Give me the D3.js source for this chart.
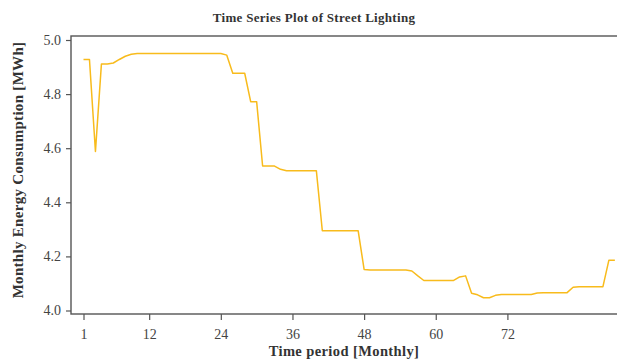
<!DOCTYPE html>
<html>
<head>
<meta charset="utf-8">
<script src="https://cdn.jsdelivr.net/npm/d3@7"></script>
<style>
  html, body { margin: 0; padding: 0; background: #fff; }
  svg { display: block; }
  text { font-family: "Liberation Serif", "Times New Roman", serif; }
</style>
</head>
<body>
<svg id="chart" width="617" height="363"></svg>
<script>
// Monthly street lighting energy consumption (MWh), months 1..90
const months = d3.range(1, 91);
const consumption = [
  4.928, 4.928, 4.588, 4.911, 4.911, 4.915, 4.928, 4.940, 4.947, 4.950,
  4.950, 4.950, 4.950, 4.950, 4.950, 4.950, 4.950, 4.950, 4.950, 4.950,
  4.950, 4.950, 4.950, 4.950, 4.944, 4.877, 4.877, 4.877, 4.772, 4.772,
  4.534, 4.534, 4.534, 4.522, 4.517, 4.517, 4.517, 4.517, 4.517, 4.517,
  4.295, 4.295, 4.295, 4.295, 4.295, 4.295, 4.295, 4.152, 4.150, 4.150,
  4.150, 4.150, 4.150, 4.150, 4.150, 4.146, 4.128, 4.111, 4.111, 4.111,
  4.111, 4.111, 4.111, 4.124, 4.128, 4.064, 4.058, 4.047, 4.047, 4.056,
  4.059, 4.059, 4.059, 4.059, 4.059, 4.059, 4.065, 4.066, 4.066, 4.066,
  4.066, 4.066, 4.086, 4.088, 4.088, 4.088, 4.088, 4.088, 4.186, 4.186
];
const xTicks = [1, 12, 24, 36, 48, 60, 72];
const yTicks = [4.0, 4.2, 4.4, 4.6, 4.8, 5.0];

const titleText = "Time Series Plot of Street Lighting";
const xTitle = "Time period [Monthly]";
const yTitle = "Monthly Energy Consumption [MWh]";

const svg = d3.select("#chart");
const frame = { left: 71, top: 36, right: 640, bottom: 314 };

const x = d3.scaleLinear().domain([1, 72]).range([83.5, 507.4]);
const y = d3.scaleLinear().domain([4, 5]).range([310.5, 40]);

// plot frame
svg.append("rect")
  .attr("x", frame.left).attr("y", frame.top)
  .attr("width", frame.right - frame.left)
  .attr("height", frame.bottom - frame.top)
  .attr("fill", "none")
  .attr("stroke", "#555")
  .attr("stroke-width", 1.4);

// y axis
const yAxis = d3.axisLeft(y).tickValues(yTicks).tickFormat(d3.format(".1f"))
  .tickSize(5).tickPadding(5);
const gy = svg.append("g").attr("transform", `translate(${frame.left},0)`).call(yAxis);
gy.attr("font-family", null);
gy.select(".domain").remove();
gy.selectAll(".tick line").attr("stroke", "#555").attr("stroke-width", 1.2);
gy.selectAll(".tick text").attr("fill", "#444").style("font-size", "14px")
  .style("font-family", "'Liberation Serif', serif");

// x axis
const xAxis = d3.axisBottom(x).tickValues(xTicks).tickFormat(d3.format("d"))
  .tickSize(6).tickPadding(9);
const gx = svg.append("g").attr("transform", `translate(0,${frame.bottom})`).call(xAxis);
gx.attr("font-family", null);
gx.select(".domain").remove();
gx.selectAll(".tick line").attr("stroke", "#555").attr("stroke-width", 1.2);
gx.selectAll(".tick text").attr("fill", "#444").style("font-size", "14px")
  .style("font-family", "'Liberation Serif', serif");

// series line
const line = d3.line()
  .x((d, i) => x(months[i]))
  .y(d => y(d));
svg.append("path")
  .datum(consumption)
  .attr("fill", "none")
  .attr("stroke", "#f8bb1c")
  .attr("stroke-width", 1.5)
  .attr("stroke-linejoin", "round")
  .attr("d", line);

// titles
svg.append("text")
  .attr("x", 314).attr("y", 22)
  .attr("text-anchor", "middle")
  .attr("font-weight", "bold")
  .attr("fill", "#333")
  .style("font-size", "13px")
  .style("letter-spacing", "0.3px")
  .text(titleText);

svg.append("text")
  .attr("x", 344).attr("y", 356)
  .attr("text-anchor", "middle")
  .attr("font-weight", "bold")
  .attr("fill", "#333")
  .style("font-size", "14.5px")
  .style("letter-spacing", "0.4px")
  .text(xTitle);

svg.append("text")
  .attr("transform", "translate(23,170) rotate(-90)")
  .attr("text-anchor", "middle")
  .attr("font-weight", "bold")
  .attr("fill", "#333")
  .style("font-size", "15px")
  .style("letter-spacing", "0.3px")
  .text(yTitle);
</script>
</body>
</html>
